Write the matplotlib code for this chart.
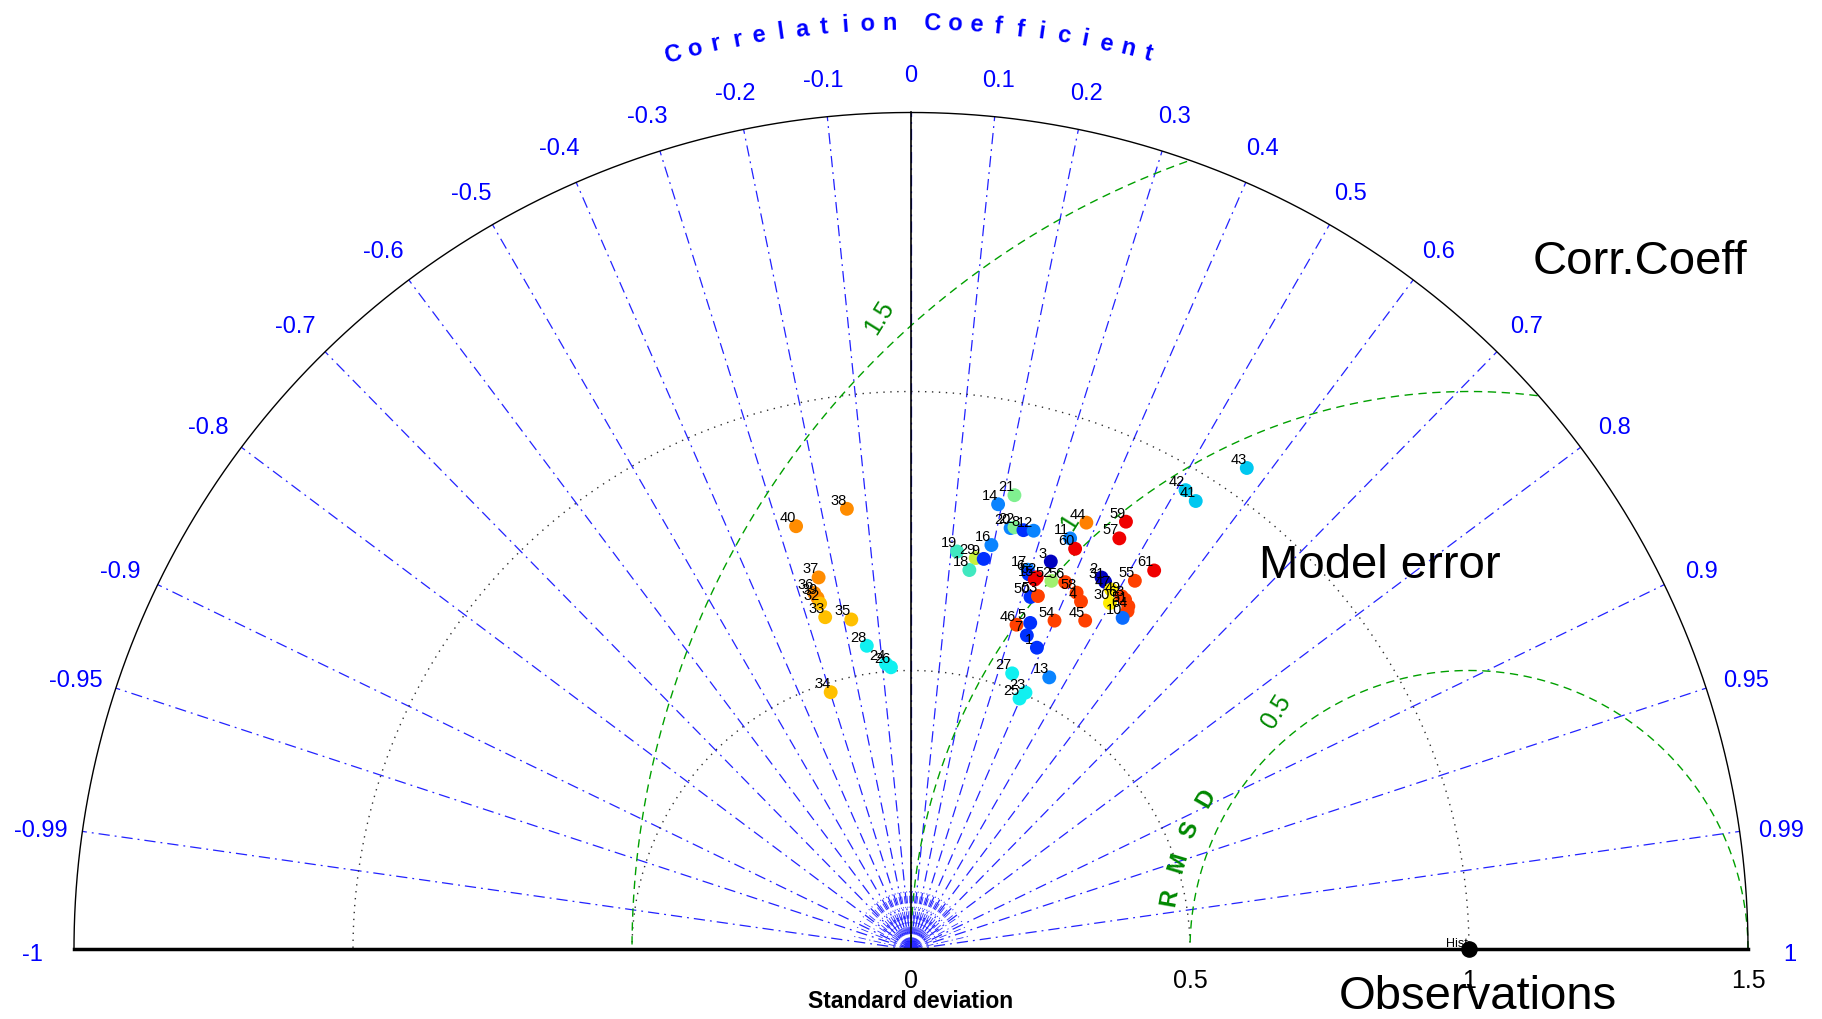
import numpy as np
import matplotlib.pyplot as plt

plt.rcParams['font.family'] = ['Liberation Sans', 'DejaVu Sans']

# model statistics: normalised std and correlation
labels = ['40', '38', '37', '36', '39', '32', '33', '35', '28', '26', '24', '34',
          '21', '14', '20', '22', '8', '12', '16', '19', '29', '9', '18', '3',
          '17', '6', '62', '15', '52', '56', '58', '4', '50', '53', '44', '11',
          '60', '59', '57', '61', '55', '2', '31', '47', '30', '49', '63', '51',
          '64', '10', '46', '5', '7', '1', '54', '45', '27', '13', '23', '25',
          '42', '41', '43']
std_dev = [0.786, 0.798, 0.687, 0.662, 0.652, 0.641, 0.615, 0.601, 0.550, 0.507, 0.514, 0.483,
           0.835, 0.813, 0.776, 0.779, 0.778, 0.782, 0.739, 0.718, 0.711, 0.712, 0.688, 0.739,
           0.712, 0.705, 0.704, 0.699, 0.707, 0.714, 0.705, 0.694, 0.667, 0.673, 0.827, 0.790,
           0.776, 0.858, 0.826, 0.807, 0.773, 0.749, 0.745, 0.738, 0.716, 0.737, 0.735, 0.728,
           0.720, 0.705, 0.612, 0.623, 0.600, 0.586, 0.643, 0.667, 0.527, 0.547, 0.504, 0.490,
           0.959, 0.952, 1.052]
corr = [-0.262, -0.144, -0.241, -0.262, -0.257, -0.254, -0.250, -0.178, -0.144, -0.071, -0.087, -0.298,
        0.222, 0.192, 0.230, 0.238, 0.259, 0.281, 0.195, 0.115, 0.163, 0.183, 0.152, 0.339,
        0.294, 0.299, 0.320, 0.317, 0.356, 0.387, 0.421, 0.439, 0.321, 0.338, 0.380, 0.361,
        0.379, 0.449, 0.452, 0.540, 0.519, 0.456, 0.467, 0.486, 0.498, 0.512, 0.522, 0.535,
        0.539, 0.538, 0.309, 0.343, 0.346, 0.385, 0.400, 0.468, 0.344, 0.453, 0.407, 0.397,
        0.513, 0.536, 0.572]
colors = ['#ff8c00', '#ff8c00', '#ff8c00', '#ff8c00', '#ff8c00', '#ffc000', '#ffc000', '#ffc000',
          '#10f0f0', '#10f0f0', '#10f0f0', '#ffc000',
          '#80f090', '#0a84ff', '#0a84ff', '#80f090', '#0030ff', '#0a84ff', '#0a84ff', '#40e8c0',
          '#c8f03c', '#0030ff', '#40e8c0', '#0000c0', '#0a84ff', '#0030ff', '#f00000', '#f00000',
          '#a0f070', '#ff4000', '#ff4000', '#ff4000', '#0030ff', '#ff4000', '#ff8000', '#0a84ff',
          '#f00000', '#f00000', '#f00000', '#f00000', '#ff4000', '#0000c0', '#0000c0', '#ffee00',
          '#ffee00', '#ff4000', '#ff4000', '#ff4000', '#ff4000', '#0a6cff', '#ff4000', '#0030ff',
          '#0030ff', '#0030ff', '#ff4000', '#ff4000', '#10f0f0', '#0a84ff', '#10f0f0', '#10f0f0',
          '#00c8f0', '#00c8f0', '#00c8f0']

obs_std = 1.0
std_max = 1.5
std_ticks = [0, 0.5, 1, 1.5]
corr_ticks = [-1, -0.99, -0.95, -0.9, -0.8, -0.7, -0.6, -0.5, -0.4, -0.3, -0.2, -0.1, 0,
              0.1, 0.2, 0.3, 0.4, 0.5, 0.6, 0.7, 0.8, 0.9, 0.95, 0.99, 1]
rmsd_levels = [0.5, 1.0, 1.5]

fig = plt.figure(figsize=(18.22, 10.20), dpi=100)
ax = fig.add_axes([0, 0, 1, 1])
ax.set_xlim(-1.6326, 1.6326)
ax.set_ylim(-0.1246, 1.7034)
ax.axis('off')

t = np.linspace(0, np.pi, 600)
dashdot = (0, (9, 4, 1.5, 4))

# correlation rays and labels
for c in corr_ticks:
    a = np.arccos(c)
    ax.plot([0, std_max * np.cos(a)], [0, std_max * np.sin(a)], color='#2222ff',
            lw=0.9, linestyle=dashdot, zorder=1)
    ax.text(1.575 * np.cos(a), 1.575 * np.sin(a) - 0.008, f'{c:g}', color='blue', fontsize=17,
            ha='center', va='center')
# dense short rays near the origin
for c in np.arange(-0.975, 0.98, 0.05):
    a = np.arccos(c)
    ax.plot([0, 0.11 * np.cos(a)], [0, 0.11 * np.sin(a)], color='#2a2aff', lw=0.6,
            linestyle=dashdot, zorder=1)

# std arcs
for r in [0.5, 1.0]:
    ax.plot(r * np.cos(t), r * np.sin(t), color='#303030', lw=1, linestyle=(0, (1, 4)), zorder=1)
ax.plot(std_max * np.cos(t), std_max * np.sin(t), color='black', lw=1, zorder=2)
ax.plot([-std_max, std_max], [0, 0], color='black', lw=2.5, zorder=2)
ax.plot([0, 0], [0, std_max], color='black', lw=1.2, zorder=2)

for v in std_ticks:
    ax.text(v, -0.055, f'{v:g}', fontsize=18, ha='center', va='center')
ax.text(0, -0.092, 'Standard deviation', fontsize=16.5, fontweight='bold', ha='center', va='center')

# RMSD circles around the observation
for R, deg in zip(rmsd_levels, [129, 133, 133]):
    xs = obs_std + R * np.cos(t)
    ys = R * np.sin(t)
    m = xs ** 2 + ys ** 2 <= std_max ** 2 + 1e-9
    ax.plot(xs[m], ys[m], color='#00a000', lw=1, linestyle=(0, (6, 4)), zorder=1)
    ang = np.deg2rad(deg)
    ax.text(obs_std + (R + 0.05) * np.cos(ang), (R + 0.05) * np.sin(ang), f'{R:g}',
            color='#008800', fontsize=18, rotation=58, ha='center', va='center')
for ch, deg in zip('RMSD', [170, 163.3, 156.7, 150]):
    a = np.deg2rad(deg)
    ax.text(obs_std + 0.545 * np.cos(a), 0.545 * np.sin(a), ch, color='#008800', fontsize=17,
            fontweight='bold', rotation=deg - 90, ha='center', va='center')

# curved title
title = 'Correlation Coefficient'
pos, p = [], 0
for ch in title:
    if ch == ' ':
        p += 1
        pos.append(None)
        continue
    pos.append(p)
    p += 1
for ch, q in zip(title, pos):
    if q is None:
        continue
    deg = 90 + (11 - q) * 1.35
    a = np.deg2rad(deg)
    ax.text(1.662 * np.cos(a), 1.662 * np.sin(a), ch, color='blue', fontsize=17,
            fontweight='bold', rotation=deg - 90, ha='center', va='center')

# models
std_arr = np.array(std_dev)
r_arr = np.array(corr)
x = std_arr * r_arr
y = std_arr * np.sqrt(1 - r_arr ** 2)
ax.scatter(x, y, s=100, c=colors, edgecolors='none', zorder=4)
for lab, xi, yi in zip(labels, x, y):
    ax.annotate(lab, (xi, yi), xytext=(-6, 6.5), textcoords='offset points', fontsize=10.5,
                ha='center', va='center', zorder=5)

ax.scatter([obs_std], [0], s=120, color='black', zorder=5)
ax.annotate('Hist', (obs_std, 0), xytext=(-9, 5), textcoords='offset points', fontsize=9,
            ha='center', va='center')

ax.text(1.3065, 1.2339, 'Corr.Coeff', fontsize=34, ha='center', va='center')
ax.text(0.8405, 0.6883, 'Model error', fontsize=34, ha='center', va='center')
ax.text(1.0152, -0.0833, 'Observations', fontsize=34, ha='center', va='center')

fig.savefig('out.png', dpi=100)
